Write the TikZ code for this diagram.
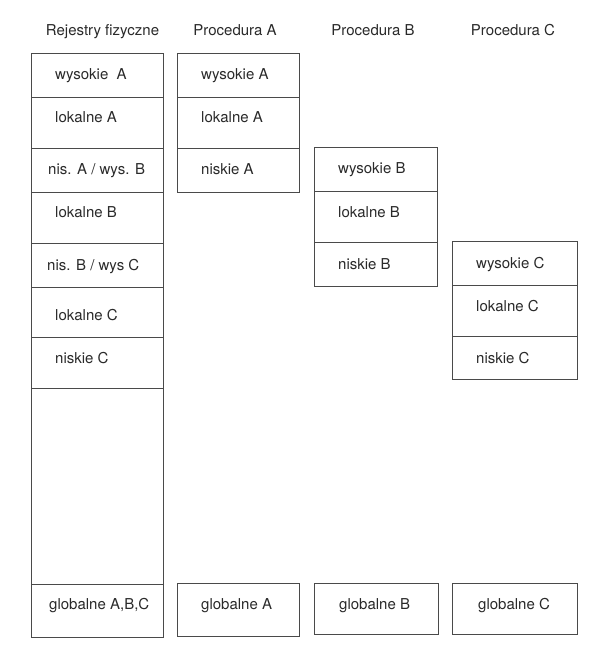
\documentclass[tikz,border=0pt]{standalone}
\usepackage{fontspec}
\setmainfont{TeX Gyre Heros}
\definecolor{linegray}{HTML}{4A4A4A}
\definecolor{txtgray}{HTML}{2A2A2A}
\begin{document}
\begin{tikzpicture}[x=1pt,y=-1pt,
  cell/.style={draw=linegray, line width=0.9pt, rectangle, anchor=north west, inner sep=0pt, outer sep=0pt},
  lbl/.style={anchor=base west, inner sep=0pt, font=\fontsize{15}{18}\selectfont, text=txtgray},
  hdr/.style={anchor=base, inner sep=0pt, font=\fontsize{15}{18}\selectfont, text=txtgray}]
\useasboundingbox (0,0) rectangle (610,660);
\fill[white] (0,0) rectangle (610,660);
% headers
\node[hdr] (h1) at (102.5,36) {Rejestry fizyczne};
\node[hdr] (h2) at (235,36) {Procedura A};
\node[hdr] (h3) at (373,36) {Procedura B};
\node[hdr] (h4) at (513,36) {Procedura C};
% column 1: physical registers
\node[cell, minimum width=132pt, minimum height=44pt] (r1) at (31,53) {};
\node[cell, minimum width=132pt, minimum height=51pt] (r2) at (31,97) {};
\node[cell, minimum width=132pt, minimum height=44pt] (r3) at (31,148) {};
\node[cell, minimum width=132pt, minimum height=51pt] (r4) at (31,192) {};
\node[cell, minimum width=132pt, minimum height=44pt] (r5) at (31,243) {};
\node[cell, minimum width=132pt, minimum height=50pt] (r6) at (31,287) {};
\node[cell, minimum width=132pt, minimum height=51pt] (r7) at (31,337) {};
\node[cell, minimum width=132pt, minimum height=196pt] (r8) at (31,388) {};
\node[cell, minimum width=132pt, minimum height=53pt] (r9) at (31,584) {};
\node[lbl] (t1) at (55,80) {wysokie\ \ A};
\node[lbl] (t2) at (55,123) {lokalne A};
\node[lbl] (t3) at (48,175) {nis. A / wys. B};
\node[lbl] (t4) at (55,218) {lokalne B};
\node[lbl] (t5) at (47,270) {nis. B / wys C};
\node[lbl] (t6) at (55,320) {lokalne C};
\node[lbl] (t7) at (55,363) {niskie C};
\node[lbl] (t9) at (49,609) {globalne A,B,C};
% column 2: procedure A
\node[cell, minimum width=122pt, minimum height=44pt] (a1) at (177,53) {};
\node[cell, minimum width=122pt, minimum height=51pt] (a2) at (177,97) {};
\node[cell, minimum width=122pt, minimum height=44pt] (a3) at (177,148) {};
\node[cell, minimum width=122pt, minimum height=53pt] (ag) at (177,583) {};
\node[lbl] (ta1) at (201,80) {wysokie A};
\node[lbl] (ta2) at (201,123) {lokalne A};
\node[lbl] (ta3) at (201,175) {niskie A};
\node[lbl] (tag) at (201,609) {globalne A};
% column 3: procedure B
\node[cell, minimum width=123pt, minimum height=44pt] (b1) at (314,147) {};
\node[cell, minimum width=123pt, minimum height=51pt] (b2) at (314,191) {};
\node[cell, minimum width=123pt, minimum height=44pt] (b3) at (314,242) {};
\node[cell, minimum width=124pt, minimum height=51pt] (bg) at (314,583) {};
\node[lbl] (tb1) at (338,174) {wysokie B};
\node[lbl] (tb2) at (338,218) {lokalne B};
\node[lbl] (tb3) at (338,269) {niskie B};
\node[lbl] (tbg) at (339,609) {globalne B};
% column 4: procedure C
\node[cell, minimum width=125pt, minimum height=44pt] (c1) at (452,241) {};
\node[cell, minimum width=125pt, minimum height=51pt] (c2) at (452,285) {};
\node[cell, minimum width=125pt, minimum height=43pt] (c3) at (452,336) {};
\node[cell, minimum width=125pt, minimum height=51pt] (cg) at (452,583) {};
\node[lbl] (tc1) at (476,268) {wysokie C};
\node[lbl] (tc2) at (476,311) {lokalne C};
\node[lbl] (tc3) at (476,363) {niskie C};
\node[lbl] (tcg) at (478,609) {globalne C};
\end{tikzpicture}
\end{document}
